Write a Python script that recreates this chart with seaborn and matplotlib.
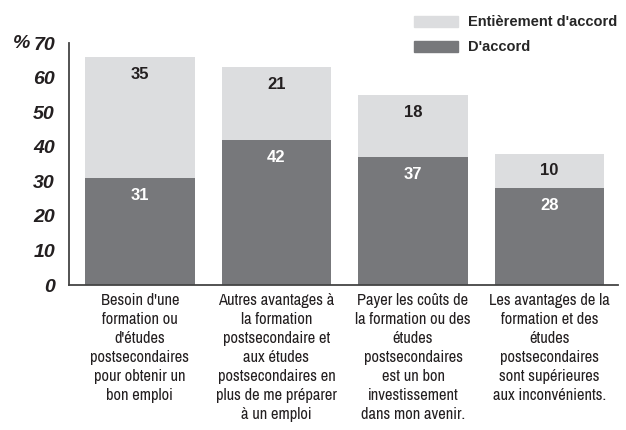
import pandas as pd
import matplotlib.pyplot as plt
import seaborn as sns
from matplotlib.patches import Patch
from matplotlib import font_manager as fm

# Data
categories = [
    "Besoin d'une\nformation ou\nd'études\npostsecondaires\npour obtenir un\nbon emploi",
    "Autres avantages à\nla formation\npostsecondaire et\naux études\npostsecondaires en\nplus de me préparer\nà un emploi",
    "Payer les coûts de\nla formation ou des\nétudes\npostsecondaires\nest un bon\ninvestissement\ndans mon avenir.",
    "Les avantages de la\nformation et des\nétudes\npostsecondaires\nsont supérieures\naux inconvénients.",
]
d_accord = [31, 42, 37, 28]
entierement = [35, 21, 18, 10]

df = pd.DataFrame({"cat": categories, "accord": d_accord, "entier": entierement})
df["total"] = df["accord"] + df["entier"]

dark = "#77787b"
light = "#dcdddf"
txt = "#231f20"

sns.set_style("white")
plt.rcParams["font.family"] = ["Liberation Sans", "DejaVu Sans"]

# look for a condensed face for the category labels
cond = None
for f in fm.fontManager.ttflist:
    if "Narrow" in f.name or "Condensed" in f.name:
        cond = f.name
        break

fig = plt.figure(figsize=(6.26, 4.30), dpi=100)
ax = fig.add_axes([0.110, 0.337, 0.877, 0.563])

sns.barplot(x="cat", y="total", data=df, color=light, width=0.8, ax=ax, saturation=1, linewidth=0)
sns.barplot(x="cat", y="accord", data=df, color=dark, width=0.8, ax=ax, saturation=1, linewidth=0)

for i, row in df.iterrows():
    ax.annotate(str(row["entier"]), (i, row["total"]), xytext=(0, -7), textcoords="offset points",
                ha="center", va="top", fontsize=12, fontweight="bold", color=txt)
    ax.annotate(str(row["accord"]), (i, row["accord"]), xytext=(0, -7), textcoords="offset points",
                ha="center", va="top", fontsize=12, fontweight="bold", color="white")

ax.set_ylim(0, 70)
ax.set_xlim(-0.52, 3.5)
ax.set_yticks(range(0, 71, 10))
ax.set_yticklabels([str(v) for v in range(0, 71, 10)], fontsize=14, fontweight="bold",
                   fontstyle="italic", color=txt)
ax.set_xticks(range(len(categories)))
if cond is not None:
    ax.set_xticklabels(categories, fontsize=11.8, family=[cond, "DejaVu Sans"], linespacing=1.33)
else:
    ax.set_xticklabels(categories, fontsize=9.6, family=["DejaVu Sans"], linespacing=1.3)
ax.tick_params(axis="x", colors=txt, length=0, pad=6)
ax.tick_params(axis="y", length=0, pad=10)
ax.set_xlabel("")
ax.set_ylabel("")
sns.despine(ax=ax)
for s in ["left", "bottom"]:
    ax.spines[s].set_color("#444444")
    ax.spines[s].set_linewidth(1.3)

fig.text(0.021, 0.9, "%", fontsize=14, fontweight="bold", fontstyle="italic",
         color=txt, va="center")

handles = [Patch(color=light, label="Entièrement d'accord"), Patch(color=dark, label="D'accord")]
fig.legend(handles=handles, loc="upper left", bbox_to_anchor=(0.64, 0.995), frameon=False,
           prop={"weight": "bold", "size": 10.5},
           handlelength=3.0, handleheight=0.8, labelspacing=0.75, handletextpad=0.75)

fig.savefig("out.png", dpi=100)
